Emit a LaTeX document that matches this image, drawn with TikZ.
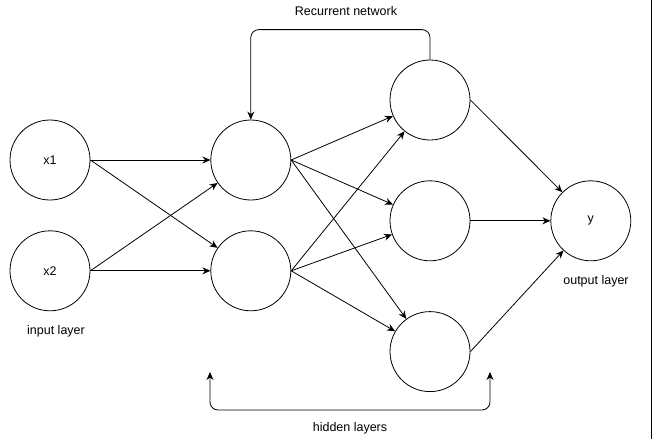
\documentclass[tikz,border=0pt]{standalone}
\usepackage{fontspec}
\setmainfont{Liberation Sans}
\usetikzlibrary{positioning,arrows.meta}

\begin{document}
\begin{tikzpicture}[
    x=1pt, y=1pt,
    font=\fontsize{12.5}{15}\selectfont,
    neuron/.style={draw, circle, line width=0.8pt, minimum size=80pt, inner sep=0pt},
    label/.style={inner sep=1pt},
    arrow/.style={-{Stealth[length=8pt,width=7pt]}, line width=0.8pt},
    bothways/.style={{Stealth[length=8pt,width=7pt]}-{Stealth[length=8pt,width=7pt]}, line width=0.8pt}
]
    \useasboundingbox (0,0) rectangle (652,-439);

    % Neurons
    \node[neuron] (x1) at (50,-160) {x1};
    \node[neuron, below=30pt of x1] (x2) {x2};
    \node[neuron, right=120pt of x1] (h1a) {};
    \node[neuron, below=30pt of h1a] (h1b) {};
    \node[neuron] (h2a) at (430,-100) {};
    \node[neuron, below=40pt of h2a] (h2b) {};
    \node[neuron, below=50pt of h2b] (h2c) {};
    \node[neuron, right=80pt of h2b] (out) {y};

    % Labels
    \node[label] (inlabel) at (56,-331) {input layer};
    \node[label] (outlabel) at (596,-281) {output layer};
    \node[label] (hidlabel) at (350,-428) {hidden layers};
    \node[label] (reclabel) at (346,-11) {Recurrent network};

    % Arrows
    \draw[arrow] (x1.east) -- (h1a);
    \draw[arrow] (x1.east) -- (h1b);
    \draw[arrow] (x2.east) -- (h1a);
    \draw[arrow] (x2.east) -- (h1b);
    \foreach \src in {h1a,h1b}
        \foreach \dst in {h2a,h2b,h2c}
            \draw[arrow] (\src.east) -- (\dst);
    \foreach \src in {h2a,h2b,h2c}
        \draw[arrow] (\src.east) -- (out);

    % Recurrent loop
    \draw[arrow, rounded corners=8pt] (h2a.north) -- ++(0,30) -| (h1a.north);

    % Hidden layers bracket
    \coordinate (hidL) at (210,-372);
    \coordinate (hidR) at (490,-372);
    \draw[bothways, rounded corners=8pt] (hidL) -- ++(0,-38) -| (hidR);

    % Right edge
    \draw[line width=1pt] (651.5,0) -- (651.5,-439);
\end{tikzpicture}
\end{document}
